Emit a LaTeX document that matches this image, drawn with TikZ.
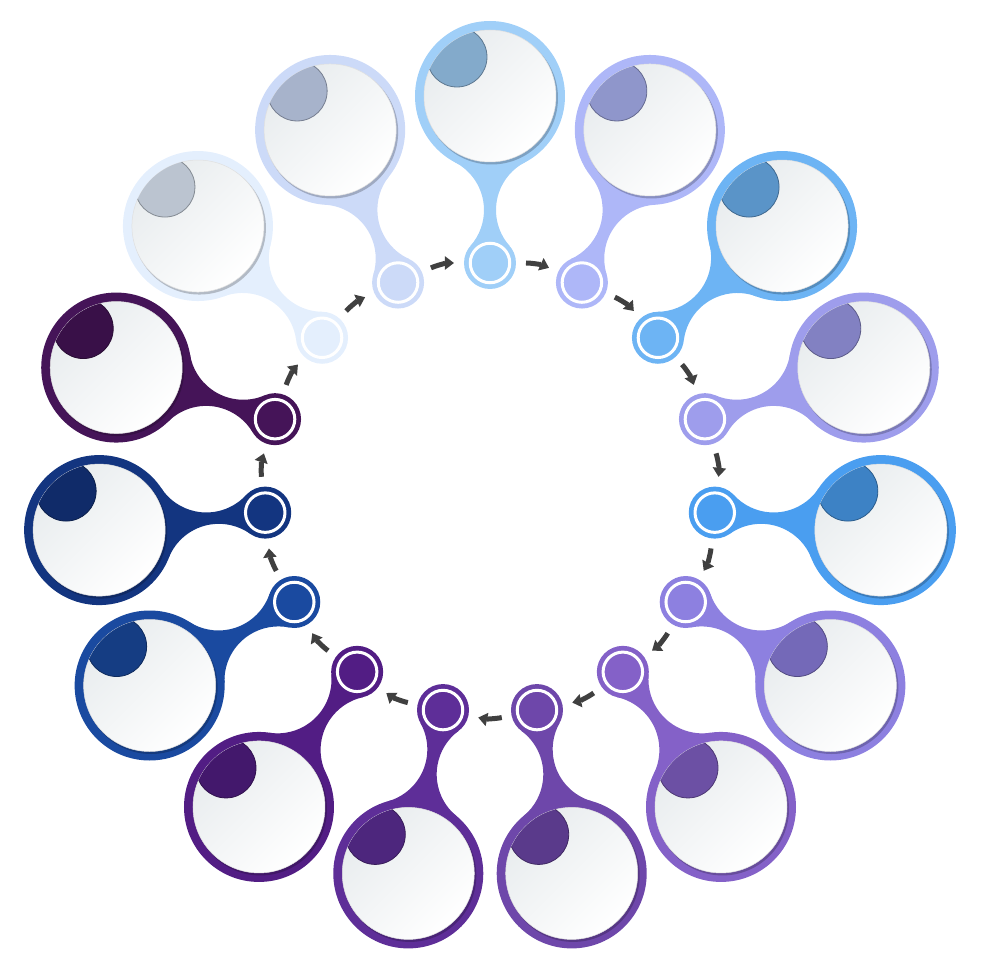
\documentclass[tikz,border=0pt]{standalone}
\usetikzlibrary{arrows.meta}
\definecolor{mSky}{HTML}{A0CFF8}
\definecolor{mPeri}{HTML}{AEB7F8}
\definecolor{mAzure}{HTML}{6DB4F4}
\definecolor{mIris}{HTML}{9E9DEC}
\definecolor{mBlue}{HTML}{4A9EF0}
\definecolor{mViolet}{HTML}{8D80E0}
\definecolor{mAmethyst}{HTML}{8461C8}
\definecolor{mPurple}{HTML}{6E47AA}
\definecolor{mGrape}{HTML}{5E2E98}
\definecolor{mPlum}{HTML}{521D84}
\definecolor{mCobalt}{HTML}{1A4AA0}
\definecolor{mNavy}{HTML}{133580}
\definecolor{mAubergine}{HTML}{451458}
\definecolor{mIce}{HTML}{E4EFFD}
\definecolor{mMist}{HTML}{CCDAF8}
\definecolor{mArrow}{HTML}{404040}
\definecolor{mFace}{HTML}{E8ECEE}

\tikzset{
  hub/.style={circle, minimum size=52pt, inner sep=0pt, outer sep=0pt},
  bubble/.style={circle, minimum size=150pt, inner sep=0pt, outer sep=0pt},
  flow/.style={draw=mArrow, line width=5pt, shorten <=10pt, shorten >=10pt,
    -{Triangle[width=13pt, length=9pt]}},
}

\begin{document}
\begin{tikzpicture}[x=1pt, y=1pt]
\useasboundingbox (-490,-491) rectangle (490,489);

% fifteen steps, clockwise from the top
\foreach \i/\col in {0/mSky, 1/mPeri, 2/mAzure, 3/mIris, 4/mBlue, 5/mViolet,
    6/mAmethyst, 7/mPurple, 8/mGrape, 9/mPlum, 10/mCobalt, 11/mNavy,
    12/mAubergine, 13/mIce, 14/mMist}{
  \pgfmathsetmacro\a{90-24*\i}
  % neck between hub and bubble
  \begin{scope}[shift={(\a:226)}, rotate=\a-90]
    \fill[\col] (19.5,17.2) arc[start angle=221.4, end angle=117.7, radius=54]
      -- (0,167) -- (-34.9,100.7)
      arc[start angle=62.3, end angle=-41.4, radius=54] -- cycle;
  \end{scope}
  \node[bubble, fill=\col] (b\i) at (\a:393) {};
  \node[hub, fill=\col] (s\i) at (\a:226) {};
  \draw[white, line width=3pt] (s\i.center) circle (19.75);
  % face of the bubble
  \fill[\col!78!black] ([shift={(1.5,-2)}]b\i.center) circle (66.5);
  \shade[top color=mFace, bottom color=white, shading angle=45]
    (b\i.center) circle (66);
  \draw[black!12, line width=0.5pt] (b\i.center) circle (66);
  \begin{scope}
    \clip (b\i.center) circle (66);
    \fill[\col!82!black, draw=\col!58!black, line width=0.8pt]
      ([shift={(-33,39)}]b\i.center) circle (30);
  \end{scope}
}

% arrows round the ring
\foreach \i in {0,...,14}{
  \pgfmathtruncatemacro\j{mod(\i+1,15)}
  \draw[flow] (s\i) to[bend left=12] (s\j);
}
\end{tikzpicture}
\end{document}
